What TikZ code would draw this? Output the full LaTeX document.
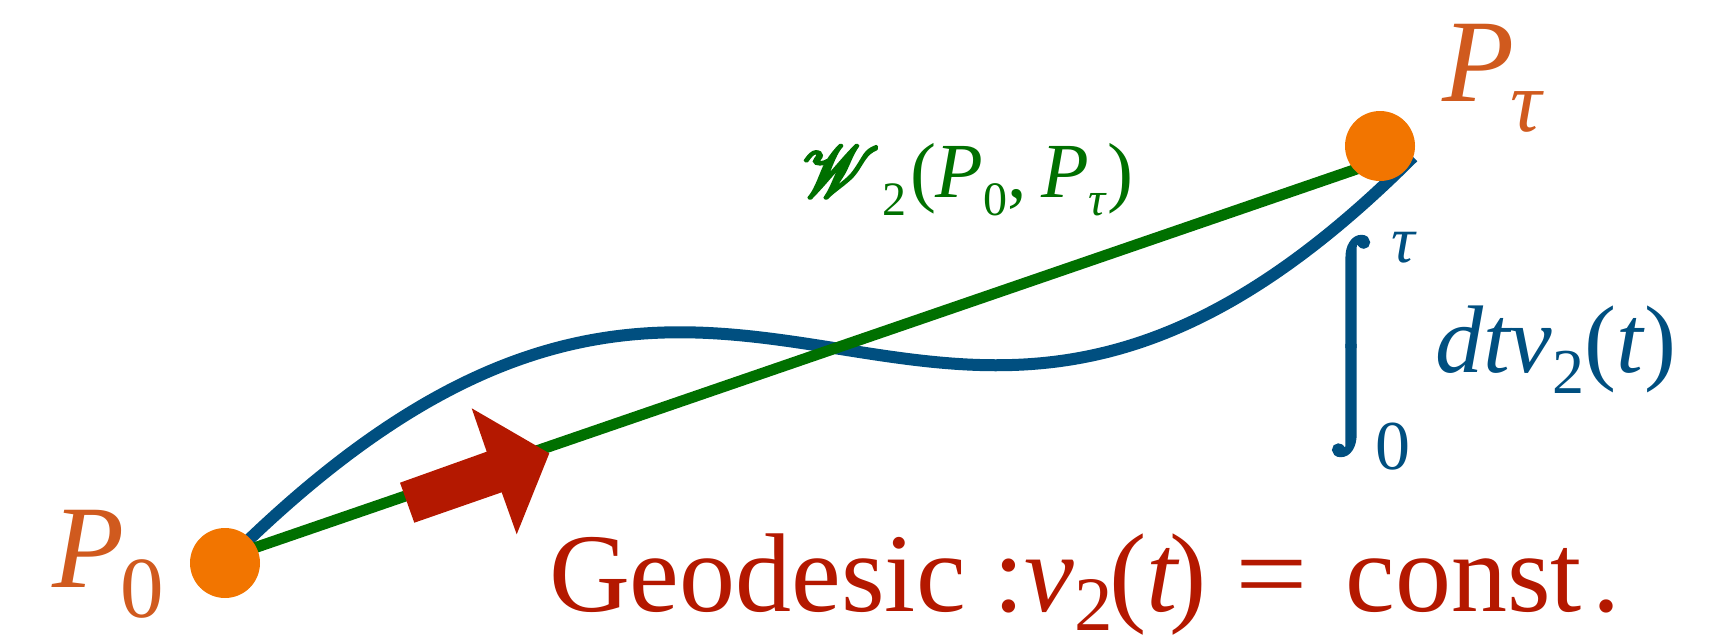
\documentclass[tikz,border=0pt]{standalone}
\usepackage{fontspec}
\setmainfont{Liberation Serif}
\usepackage{mathrsfs}
\usetikzlibrary{backgrounds}
\definecolor{dotor}{HTML}{F27500}
\definecolor{labor}{HTML}{D05A1E}
\definecolor{geored}{HTML}{B41800}
\definecolor{wgreen}{HTML}{007000}
\definecolor{cblue}{HTML}{004F80}
\newcommand{\fs}[1]{\fontsize{#1}{#1}\selectfont}
\newcommand{\lowsub}[3]{\raisebox{-#2}{\fs{#1}#3}}
\newcommand{\heavy}[2]{\special{pdf:literal direct 2 Tr #1 w}#2\special{pdf:literal direct 0 Tr}}
\newcommand{\tallint}{\vbox{\offinterlineskip\fs{100}\hbox{⌠}\hbox{⌡}}}
\tikzset{
  dot/.style={circle, fill=dotor, minimum size=70pt, inner sep=0pt},
  lab/.style={inner sep=0pt, outer sep=0pt, anchor=base west},
  curveline/.style={draw=cblue, line width=12pt},
  wline/.style={draw=wgreen, line width=11pt},
  bigarrow/.style={fill=geored}
}
\begin{document}
\begin{tikzpicture}[x=1pt,y=-1pt]
\useasboundingbox (0,0) rectangle (1727,635);
% points
\node[dot] (P0) at (225,563) {};
\node[dot] (Pt) at (1380,146) {};
\coordinate (wS) at (225,558);
\coordinate (wE) at (1380,161);
\coordinate (bE) at (1413,157);
% lines (under dots)
\begin{pgfonlayer}{background}
\path[curveline] (P0.center) .. controls (754.5,33.5) and (916.6,653.4) .. (bE);
\path[wline] (wS) -- (wE);
\fill[bigarrow] (400,482.7) -- (486.7,451.7) -- (471.7,408.3) -- (549.3,453.3)
  -- (516.7,534.3) -- (501.7,492.3) -- (414.3,522.7) -- cycle;
\end{pgfonlayer}
% labels
\node[lab, text=labor] (lP0) at (52,587) {\fs{118}\textit{P}\kern-4pt\lowsub{87}{30pt}{0}};
\node[lab, text=labor] (lPt) at (1442,101) {\fs{118}\textit{P}\kern-4pt\lowsub{87}{30pt}{\textit{τ}}};
\node[lab, text=wgreen] (lW) at (802,197) {\fs{78}\resizebox{78pt}{!}{\heavy{1.0}{$\mathscr{W}$}}\kern2pt\lowsub{48}{18pt}{2}\kern4pt(\textit{P}\lowsub{48}{18pt}{0},\kern14pt\textit{P}\lowsub{48}{18pt}{\textit{τ}})};
\node[inner sep=0pt, text=cblue] (int) at (1351,346) {\resizebox*{!}{218pt}{\heavy{4.5}{\tallint}}};
\node[lab, text=cblue] (intu) at (1391,262) {\fs{66}\textit{τ}};
\node[lab, text=cblue] (intl) at (1375,469) {\fs{70}0};
\node[lab, text=cblue] (intg) at (1435,372) {\fs{96}\textit{dtv}\lowsub{64}{21pt}{2}(\textit{t})};
\node[lab, text=geored] (geo) at (549,611) {\fs{112}Geodesic :\textit{v}\lowsub{77}{19pt}{2}\kern-4pt(\textit{t}\kern-10pt) \scalebox{1.15}[1]{=} \hspace{10pt}const\kern10pt.};
\end{tikzpicture}
\end{document}
